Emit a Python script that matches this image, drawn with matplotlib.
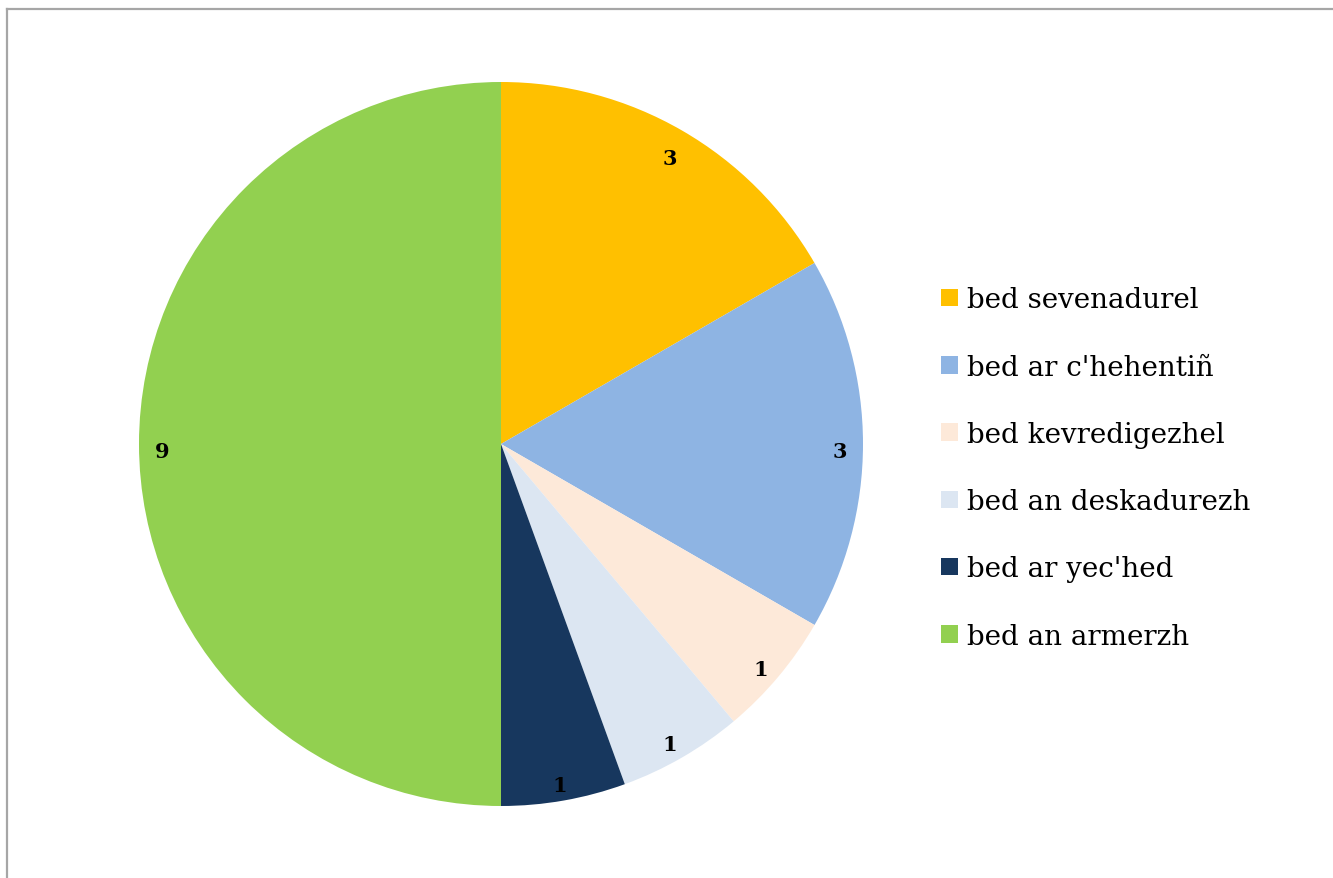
import matplotlib
matplotlib.use("Agg")
import matplotlib.pyplot as plt
from matplotlib.lines import Line2D
from matplotlib.patches import Patch

labels = ["bed sevenadurel", "bed ar c'hehentiñ", "bed kevredigezhel",
          "bed an deskadurezh", "bed ar yec'hed", "bed an armerzh"]
values = [3, 3, 1, 1, 1, 9]
colors = ["#FFC000", "#8EB4E3", "#FDE9D9", "#DCE6F2", "#17375E", "#92D050"]

W, H = 1333, 879
fig = plt.figure(figsize=(W / 100, H / 100), dpi=100)
fig.patch.set_facecolor("white")

# chart frame (only top and left edges visible)
fig.add_artist(Line2D([7.5 / W, 1.0], [1 - 9.5 / H, 1 - 9.5 / H], color="#A6A6A6", lw=1.6))
fig.add_artist(Line2D([7.5 / W, 7.5 / W], [0.0, 1 - 9.5 / H], color="#A6A6A6", lw=1.6))

cx, cy, r = 501, 445, 362
ax = fig.add_axes([(cx - r) / W, (H - cy - r) / H, 2 * r / W, 2 * r / H])
total = sum(values)
wedges, texts, autotexts = ax.pie(
    values, colors=colors, startangle=90, counterclock=False,
    autopct=lambda p: f"{round(p * total / 100)}", pctdistance=0.935,
    wedgeprops=dict(linewidth=0),
    textprops=dict(family="DejaVu Serif", fontweight="bold", fontsize=15, color="black"))
for t in autotexts:
    x, y = t.get_position()
    t.set_position((x, y - 0.02))
ax.set_xlim(-1, 1)
ax.set_ylim(-1, 1)
ax.set_aspect("equal")

handles = [Patch(facecolor=c, edgecolor="none") for c in colors]
leg = fig.legend(handles, labels, loc="center left", bbox_to_anchor=(941 / W, 1 - 469 / H),
                 frameon=False, prop=dict(family="DejaVu Serif", size=20),
                 handlelength=0.6, handleheight=0.6, handletextpad=0.35,
                 labelspacing=1.45, borderpad=0, borderaxespad=0)

fig.savefig("out.png", dpi=100)
